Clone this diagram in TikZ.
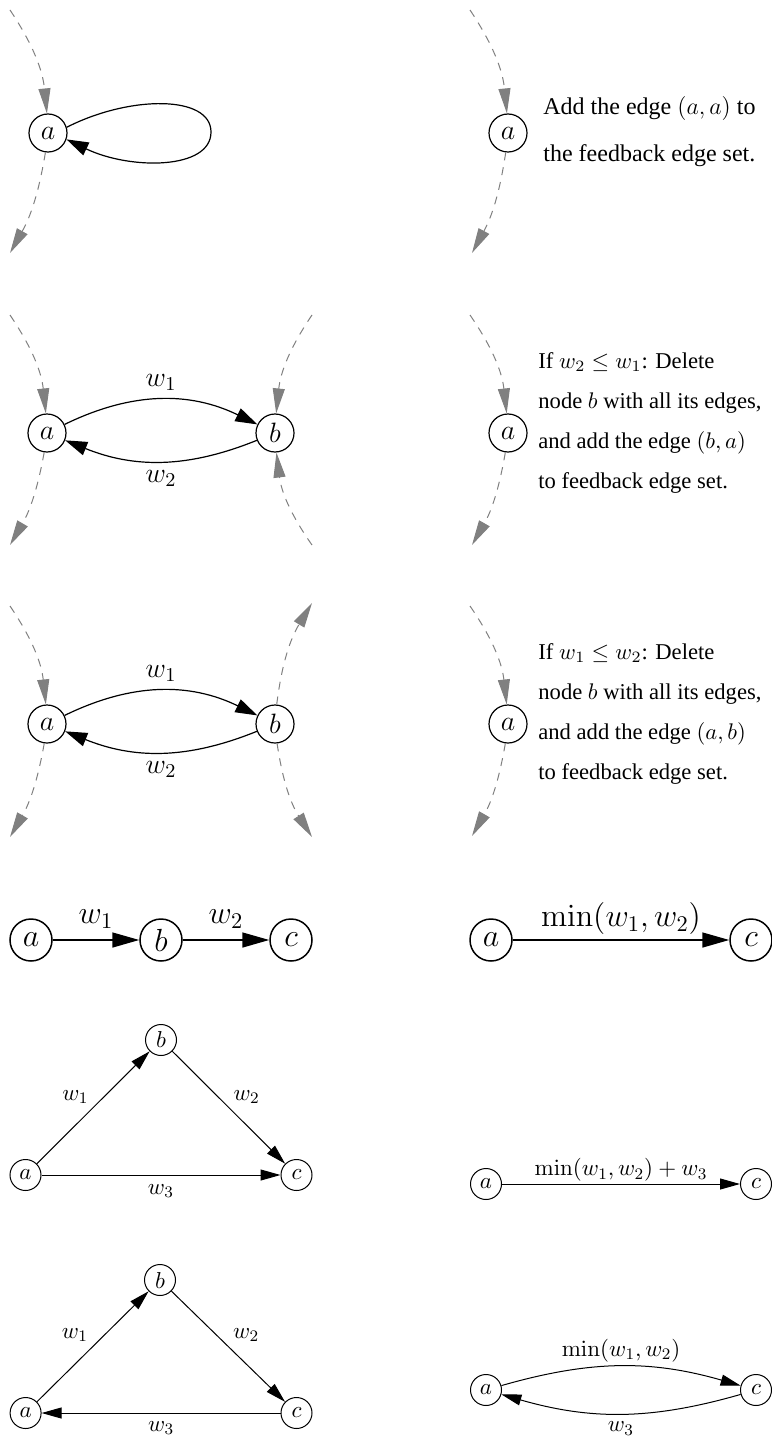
\RequirePackage{fix-cm}
\documentclass[tikz,border=0pt]{standalone}
\usepackage[no-math]{fontspec}
\setmainfont{Liberation Serif}
\usetikzlibrary{arrows.meta}
\tikzset{
  nA/.style={circle,draw,line width=0.6pt,minimum size=19pt,inner sep=0pt,font=\fontsize{14}{16}\selectfont},
  nD/.style={circle,draw,line width=0.75pt,minimum size=21pt,inner sep=0pt,font=\fontsize{16}{18}\selectfont},
  nE/.style={circle,draw,line width=0.5pt,minimum size=15.5pt,inner sep=0pt,font=\fontsize{11.5}{13}\selectfont},
  eA/.style={line width=0.6pt,-{Triangle[length=11pt,width=7pt]}},
  eD/.style={line width=0.75pt,-{Triangle[length=13.5pt,width=7.5pt]}},
  eE/.style={line width=0.5pt,-{Triangle[length=10pt,width=5.5pt]}},
  dar/.style={draw=gray,line width=0.5pt,dash pattern=on 4pt off 3.5pt,-{Triangle[length=12.5pt,width=6pt]}},
  lbA/.style={inner sep=0pt,font=\fontsize{14}{16}\selectfont},
  lbD/.style={inner sep=0pt,anchor=south,font=\fontsize{16}{18}\selectfont},
  lbE/.style={inner sep=0pt,font=\fontsize{11.5}{13}\selectfont},
  txA/.style={anchor=base west,inner sep=0pt,font=\fontsize{12}{14}\selectfont},
  txB/.style={anchor=base west,inner sep=0pt,font=\fontsize{11.3}{13}\selectfont},
}
\begin{document}
\begin{tikzpicture}[x=0.5pt,y=0.5pt]
\useasboundingbox (0,0) rectangle (771,-1439);

% ---------- Row A ----------
\node[nA] (a1) at (48,-133) {$a$};
\coordinate (a1i) at (10,-10);
\coordinate (a1o) at (10,-253);
\draw[dar] (a1i) to[bend left=14] (a1);
\draw[dar] (a1) to[bend left=10] (a1o);
\draw[eA] (a1.17) .. controls (130,-95) and (211,-95) .. (211,-132)
              .. controls (211,-170) and (130,-170) .. (a1.-19);

\node[nA] (r1) at (508,-133) {$a$};
\coordinate (r1i) at (470,-10);
\coordinate (r1o) at (472,-253);
\draw[dar] (r1i) to[bend left=14] (r1);
\draw[dar] (r1) to[bend left=10] (r1o);
\node[txA] (t1a) at (543,-115) {Add the edge $(a,a)$ to};
\node[txA] (t1b) at (543,-162) {the feedback edge set.};

% ---------- Row B ----------
\node[nA] (a2) at (47,-433) {$a$};
\node[nA] (b2) at (275,-433) {$b$};
\draw[eA] (a2) to[bend left=26] node[lbA,midway,yshift=8.5pt]{$w_1$} (b2);
\draw[eA] (b2) to[bend left=22] node[lbA,midway,yshift=-8.5pt]{$w_2$} (a2);
\coordinate (a2i) at (10,-315);
\coordinate (a2o) at (10,-545);
\coordinate (b2i) at (312,-315);
\coordinate (b2j) at (312,-545);
\draw[dar] (a2i) to[bend left=14] (a2);
\draw[dar] (a2) to[bend left=10] (a2o);
\draw[dar] (b2i) to[bend right=14] (b2);
\draw[dar] (b2j) to[bend left=14] (b2);

\node[nA] (r2) at (508,-433) {$a$};
\coordinate (r2i) at (470,-315);
\coordinate (r2o) at (472,-545);
\draw[dar] (r2i) to[bend left=14] (r2);
\draw[dar] (r2) to[bend left=10] (r2o);
\node[txB] (t2a) at (538,-368) {If $w_2\leq w_1$: Delete};
\node[txB] (t2b) at (538,-408) {node $b$ with all its edges,};
\node[txB] (t2c) at (538,-448) {and add the edge $(b,a)$};
\node[txB] (t2d) at (538,-488) {to feedback edge set.};

% ---------- Row C ----------
\node[nA] (a3) at (47,-724) {$a$};
\node[nA] (b3) at (275,-724) {$b$};
\draw[eA] (a3) to[bend left=26] node[lbA,midway,yshift=8.5pt]{$w_1$} (b3);
\draw[eA] (b3) to[bend left=22] node[lbA,midway,yshift=-8.5pt]{$w_2$} (a3);
\coordinate (a3i) at (10,-606);
\coordinate (a3o) at (10,-837);
\coordinate (b3o) at (312,-603);
\coordinate (b3p) at (312,-837);
\draw[dar] (a3i) to[bend left=14] (a3);
\draw[dar] (a3) to[bend left=10] (a3o);
\draw[dar] (b3) to[bend left=12] (b3o);
\draw[dar] (b3) to[bend right=12] (b3p);

\node[nA] (r3) at (508,-724) {$a$};
\coordinate (r3i) at (470,-606);
\coordinate (r3o) at (472,-836);
\draw[dar] (r3i) to[bend left=14] (r3);
\draw[dar] (r3) to[bend left=10] (r3o);
\node[txB] (t3a) at (538,-659) {If $w_1\leq w_2$: Delete};
\node[txB] (t3b) at (538,-699) {node $b$ with all its edges,};
\node[txB] (t3c) at (538,-739) {and add the edge $(a,b)$};
\node[txB] (t3d) at (538,-779) {to feedback edge set.};

% ---------- Row D ----------
\node[nD] (a4) at (31,-940) {$a$};
\node[nD] (b4) at (161,-940) {$b$};
\node[nD] (c4) at (291,-940) {$c$};
\draw[eD] (a4) -- node[lbD,midway,yshift=5.5pt]{$w_1$} (b4);
\draw[eD] (b4) -- node[lbD,midway,yshift=5.5pt]{$w_2$} (c4);
\node[nD] (r4a) at (491,-940) {$a$};
\node[nD] (r4c) at (751,-940) {$c$};
\draw[eD] (r4a) -- node[lbD,midway,yshift=2.5pt]{$\min(w_1,w_2)$} (r4c);

% ---------- Row E ----------
\node[nE] (a5) at (25.5,-1175) {$a$};
\node[nE] (b5) at (161,-1040) {$b$};
\node[nE] (c5) at (296.5,-1175) {$c$};
\draw[eE] (a5) -- node[lbE,midway,xshift=-8.9pt,yshift=5.25pt]{$w_1$} (b5);
\draw[eE] (b5) -- node[lbE,midway,xshift=8.9pt,yshift=5.25pt]{$w_2$} (c5);
\draw[eE] (a5) -- node[lbE,midway,yshift=-8pt]{$w_3$} (c5);
\node[nE] (r5a) at (486,-1184) {$a$};
\node[nE] (r5c) at (756,-1184) {$c$};
\draw[eE] (r5a) -- node[lbE,midway,yshift=7pt]{$\min(w_1,w_2)+w_3$} (r5c);

% ---------- Row F ----------
\node[nE] (a6) at (25.6,-1413) {$a$};
\node[nE] (b6) at (160,-1280) {$b$};
\node[nE] (c6) at (296.5,-1413) {$c$};
\draw[eE] (a6) -- node[lbE,midway,xshift=-8.9pt,yshift=5.75pt]{$w_1$} (b6);
\draw[eE] (b6) -- node[lbE,midway,xshift=8.9pt,yshift=5.75pt]{$w_2$} (c6);
\draw[eE] (c6) -- node[lbE,midway,yshift=-7.5pt]{$w_3$} (a6);
\node[nE] (r6a) at (486,-1390) {$a$};
\node[nE] (r6c) at (756,-1390) {$c$};
\draw[eE] (r6a) to[bend left=16] node[lbE,midway,yshift=8pt]{$\min(w_1,w_2)$} (r6c);
\draw[eE] (r6c) to[bend left=16] node[lbE,midway,yshift=-7.5pt]{$w_3$} (r6a);
\end{tikzpicture}
\end{document}
